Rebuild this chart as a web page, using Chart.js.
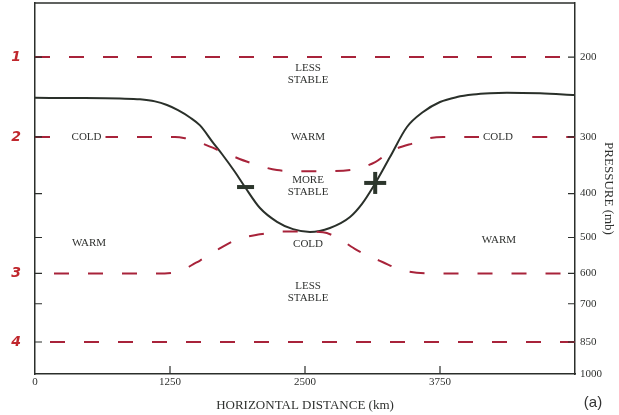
<!DOCTYPE html>
<html>
<head>
<meta charset="utf-8">
<style>
  html, body { margin: 0; padding: 0; background: #fff; }
  #wrap { width: 619px; height: 415px; }
</style>
<script src="https://cdn.jsdelivr.net/npm/chart.js@4/dist/chart.umd.min.js"></script>
</head>
<body>
<div id="wrap"><canvas id="c" width="619" height="415"></canvas></div>
<script>
// Axis ticks
const distanceTicks = [0, 1250, 2500, 3750];
const pressureTicks = [200, 300, 400, 500, 600, 700, 850, 1000];

// Sloping frontal surface (solid curve): horizontal distance (km) vs pressure (mb)
const frontKm = [0, 417, 787, 972, 1111, 1222, 1324, 1435, 1528, 1648, 1731, 1852, 1944, 2083, 2241, 2389, 2546, 2731, 2917, 3028, 3130, 3287, 3444, 3593, 3750, 3907, 4056, 4213, 4370, 4676, 5000];
const frontMb = [246, 246.3, 247, 247.9, 250.5, 255.2, 261.9, 271.8, 283, 308.8, 327.2, 358.6, 386.9, 430.5, 461.7, 479.3, 486.2, 476.4, 450.6, 421.5, 386.9, 332.3, 285.3, 264.4, 251.3, 245, 241.9, 240.3, 239.7, 240.5, 242.6];

// Isentropic surfaces 1-4 (dashed)
const surf1Km = [0, 5000];
const surf1Mb = [200, 200];
const surf2Km = [0, 1296, 1389, 1528, 1780, 1990, 2240, 2450, 2660, 2920, 3150, 3300, 3540, 3650, 3780, 5000];
const surf2Mb = [300, 300, 302, 309, 327, 342, 355, 357, 357, 355, 341, 322, 308, 302, 300, 300];
const surf3Km = [0, 1200, 1370, 1463, 1528, 1685, 1870, 2083, 2296, 2454, 2667, 2796, 2981, 3222, 3407, 3685, 5000];
const surf3Mb = [600, 600, 590, 573, 562, 533, 505, 492, 485, 485, 487, 500, 533, 567, 591, 600, 600];
const surf4Km = [0, 5000];
const surf4Mb = [850, 850];

// Region annotations
const regionText = ['LESS\nSTABLE', 'COLD', 'WARM', 'COLD', 'MORE\nSTABLE', 'WARM', 'COLD', 'WARM', 'LESS\nSTABLE'];
const regionKm   = [2528, 477, 2528, 4287, 2528, 500, 2528, 4296, 2528];
const regionMb   = [218, 300, 300, 300, 386, 514, 516, 506, 659];

// Surface numbers and where the surface meets the left edge
const surfaceNames  = ['1', '2', '3', '4'];
const surfaceLevels = [200, 300, 600, 850];

// Sign of the slope change along the front
const signText = ['\u2212', '+'];
const signKm   = [1945, 3150];
const signMb   = [387, 379];

const SERIF = '"Liberation Serif", "Times New Roman", serif';
const AXIS = '#2b2e2b';
const TXT = '#2f312f';
const DASH_RED = '#a8233a';

const pts = (xs, ys) => xs.map((x, i) => ({ x, y: ys[i] }));

const dashed = (xs, ys, offset) => ({
  data: pts(xs, ys),
  borderColor: DASH_RED,
  borderWidth: 2,
  borderDash: [15, 19],
  borderDashOffset: offset,
  pointRadius: 0,
  fill: false,
  cubicInterpolationMode: 'monotone'
});

// keep the plot frame flush with the layout padding
const noEdgePadding = s => {
  s.paddingTop = 0; s.paddingBottom = 0; s.paddingLeft = 0; s.paddingRight = 0;
};

const notesPlugin = {
  id: 'notes',
  beforeDraw(chart) {
    const ctx = chart.ctx;
    ctx.save();
    ctx.fillStyle = '#fff';
    ctx.fillRect(0, 0, chart.width, chart.height);
    ctx.restore();
  },
  afterDatasetsDraw(chart) {
    const { ctx, chartArea: a, scales } = chart;
    const sx = scales.x, sy = scales.y;
    ctx.save();

    // top edge of the frame
    ctx.strokeStyle = AXIS;
    ctx.lineWidth = 1.5;
    ctx.beginPath();
    ctx.moveTo(a.left, a.top);
    ctx.lineTo(a.right, a.top);
    ctx.stroke();

    // inward tick marks
    ctx.lineWidth = 1.2;
    ctx.beginPath();
    pressureTicks.forEach(p => {
      const y = sy.getPixelForValue(p);
      if (y < a.bottom - 1) {
        ctx.moveTo(a.left, y); ctx.lineTo(a.left + 7, y);
        ctx.moveTo(a.right, y); ctx.lineTo(a.right - 7, y);
      }
    });
    distanceTicks.forEach(d => {
      const x = sx.getPixelForValue(d);
      if (x > a.left + 1) {
        ctx.moveTo(x, a.bottom); ctx.lineTo(x, a.bottom - 8);
      }
    });
    ctx.stroke();

    // region annotations
    ctx.font = '11px ' + SERIF;
    ctx.textAlign = 'center';
    ctx.textBaseline = 'middle';
    regionText.forEach((t, i) => {
      const lines = t.split('\n');
      const cx = sx.getPixelForValue(regionKm[i]);
      const cy = sy.getPixelForValue(regionMb[i]);
      const lh = 12;
      const y0 = cy - (lines.length - 1) * lh / 2;
      const w = Math.max(...lines.map(l => ctx.measureText(l).width));
      ctx.fillStyle = '#fff';
      ctx.fillRect(cx - w / 2 - 4, y0 - 5, w + 8, (lines.length - 1) * lh + 10);
      ctx.fillStyle = TXT;
      lines.forEach((l, k) => ctx.fillText(l, cx, y0 + k * lh));
    });

    // slope signs on the front
    ctx.fillStyle = '#2c362c';
    signText.forEach((s, i) => {
      const cx = sx.getPixelForValue(signKm[i]);
      const cy = sy.getPixelForValue(signMb[i]);
      if (s === '+') {
        ctx.fillRect(cx - 11, cy - 2, 22, 4);
        ctx.fillRect(cx - 2, cy - 11, 4, 22);
      } else {
        ctx.fillRect(cx - 8, cy - 2, 17, 4);
      }
    });

    // handwritten surface numbers
    ctx.fillStyle = '#c0272d';
    ctx.font = 'italic bold 14px "DejaVu Sans", sans-serif';
    ctx.textAlign = 'center';
    surfaceNames.forEach((n, i) => {
      ctx.fillText(n, 16, sy.getPixelForValue(surfaceLevels[i]));
    });

    // panel letter
    ctx.fillStyle = '#333';
    ctx.font = '15px "Liberation Sans", Arial, sans-serif';
    ctx.fillText('(a)', 593, 403);

    ctx.restore();
  }
};

new Chart(document.getElementById('c'), {
  type: 'line',
  data: {
    datasets: [
      dashed(surf1Km, surf1Mb, 0),
      dashed(surf2Km, surf2Mb, 0),
      dashed(surf3Km, surf3Mb, 15),
      dashed(surf4Km, surf4Mb, 19),
      {
        data: pts(frontKm, frontMb),
        borderColor: '#2a302a',
        borderWidth: 2,
        pointRadius: 0,
        fill: false,
        cubicInterpolationMode: 'monotone'
      }
    ]
  },
  options: {
    responsive: false,
    animation: false,
    devicePixelRatio: 1,
    layout: { padding: { top: 3, left: 0, right: 0, bottom: 0 } },
    plugins: { legend: { display: false }, tooltip: { enabled: false } },
    scales: {
      x: {
        type: 'linear',
        position: 'bottom',
        min: 0,
        max: 5000,
        afterBuildTicks: s => { s.ticks = distanceTicks.map(v => ({ value: v })); },
        afterFit: s => { s.height = 41; noEdgePadding(s); },
        grid: { display: true, drawOnChartArea: false, drawTicks: false },
        border: { display: true, color: AXIS, width: 1.5 },
        ticks: {
          autoSkip: false, maxRotation: 0, padding: 2, color: TXT,
          font: { family: SERIF, size: 11 },
          callback: v => String(v)
        },
        title: {
          display: true, text: 'HORIZONTAL DISTANCE (km)', color: TXT,
          font: { family: SERIF, size: 13 }, padding: { top: 0, bottom: 2 }
        }
      },
      y: {
        type: 'logarithmic',
        position: 'right',
        reverse: true,
        min: 152,
        max: 1000,
        afterBuildTicks: s => { s.ticks = pressureTicks.map(v => ({ value: v })); },
        afterFit: s => { s.width = 44; noEdgePadding(s); },
        grid: { display: true, drawOnChartArea: false, drawTicks: false },
        border: { display: true, color: AXIS, width: 1.5 },
        ticks: {
          autoSkip: false, padding: 5, color: TXT,
          font: { family: SERIF, size: 11 },
          callback: v => String(v)
        },
        title: {
          display: true, text: 'PRESSURE (mb)', color: TXT,
          font: { family: SERIF, size: 13 }, padding: { top: 3, bottom: 0 }
        }
      },
      yLeft: {
        type: 'logarithmic',
        position: 'left',
        reverse: true,
        min: 152,
        max: 1000,
        afterBuildTicks: s => { s.ticks = pressureTicks.map(v => ({ value: v })); },
        afterFit: s => { s.width = 35; noEdgePadding(s); },
        grid: { display: true, drawOnChartArea: false, drawTicks: false },
        border: { display: true, color: AXIS, width: 1.5 },
        ticks: { display: false }
      }
    }
  },
  plugins: [notesPlugin]
});
</script>
</body>
</html>
